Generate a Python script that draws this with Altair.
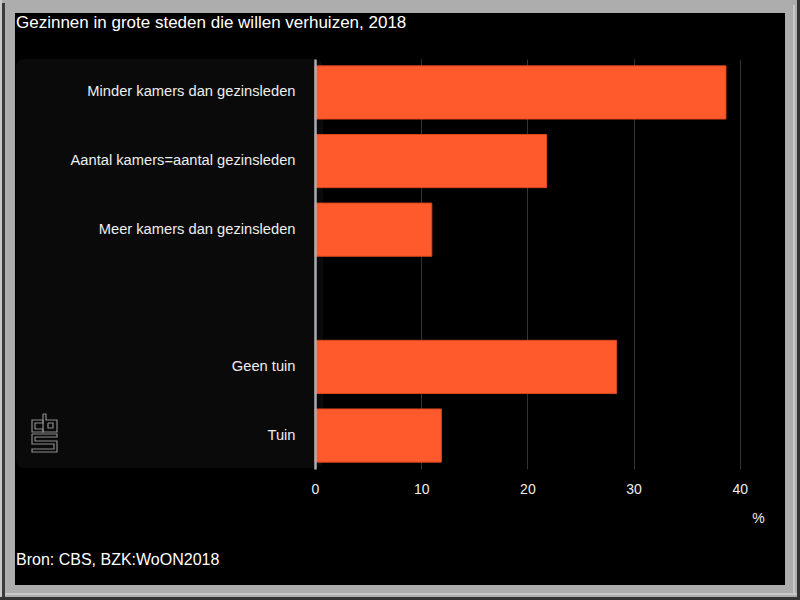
import altair as alt
import pandas as pd

# ---- data ----
categories = [
    "Minder kamers dan gezinsleden",
    "Aantal kamers=aantal gezinsleden",
    "Meer kamers dan gezinsleden",
    "Geen tuin",
    "Tuin",
]
values = [38.7, 21.8, 11.0, 28.4, 11.9]
y_order = categories[:3] + [" "] + categories[3:]
x_ticks = [0, 10, 20, 30, 40]

title_text = "Gezinnen in grote steden die willen verhuizen, 2018"
source_text = "Bron: CBS, BZK:WoON2018"

FONT = "Liberation Sans"
W, H = 446, 410
PL, PT = 315, 59

df = pd.DataFrame({"cat": categories, "val": values})
one = pd.DataFrame({"d": [0]})

# ---- decorative frame (page pixels -> view coordinates) ----
frame = [
    # x0, x1, y0, y1, colour
    (0, 800, 0, 13, "#adadad"),
    (0, 800, 585, 600, "#adadad"),
    (0, 15, 0, 600, "#adadad"),
    (785, 800, 0, 600, "#adadad"),
    (0, 2, 0, 600, "#c8c8c8"),
    (2, 5, 3, 597, "#3a3a3a"),
    (5, 797, 593, 595, "#c8c8c8"),
    (793, 795, 5, 595, "#c8c8c8"),
    (797, 800, 0, 600, "#333333"),
    (0, 800, 597, 600, "#333333"),
]
fdf = pd.DataFrame(
    [
        {"x": a - PL, "x2": b - PL, "y": c - PT, "y2": d - PT, "fill": col, "i": i}
        for i, (a, b, c, d, col) in enumerate(frame)
    ]
)
frame_layer = alt.Chart(fdf).mark_rect().encode(
    x=alt.X("x:Q", scale=None, axis=None),
    x2="x2:Q",
    y=alt.Y("y:Q", scale=None, axis=None),
    y2="y2:Q",
    color=alt.Color("fill:N", scale=None, legend=None),
    order="i:Q",
)

panel = alt.Chart(one).mark_rect(fill="#0a0a0a", cornerRadius=8).encode(
    x=alt.value(16 - PL),
    x2=alt.value(8),
    y=alt.value(0),
    y2=alt.value(468 - PT),
)

# ---- CBS logo outline ----
logo_shapes = [
    [(11, 6), (0, 6), (0, 18), (11, 18), (11, 15), (3, 15), (3, 9), (11, 9), (11, 6)],
    [(11, 0), (14, 0), (14, 6), (25, 6), (25, 18), (11, 18), (11, 0)],
    [(16, 9), (21, 9), (21, 14), (16, 14), (16, 9)],
    [(0, 20), (25, 20), (25, 23), (3, 23), (3, 27), (25, 27), (25, 38), (0, 38),
     (0, 35), (22, 35), (22, 30), (0, 30), (0, 20)],
]
LX, LY = 32 - PL, 414 - PT
rows = []
for s, pts in enumerate(logo_shapes):
    for k, (px, py) in enumerate(pts):
        rows.append({"px": LX + px, "py": LY + py, "seg": s, "o": k})
logo = alt.Chart(pd.DataFrame(rows)).mark_line(
    stroke="#8c8c8c", strokeWidth=1.2
).encode(
    x=alt.X("px:Q", scale=None, axis=None),
    y=alt.Y("py:Q", scale=None, axis=None),
    detail="seg:N",
    order="o:Q",
)

# ---- bars ----
bars = alt.Chart(df).mark_bar(
    color="#FF5A2B", stroke="#DA461E", strokeWidth=1
).encode(
    x=alt.X(
        "val:Q",
        scale=alt.Scale(domain=[0, 42], nice=False),
        axis=alt.Axis(
            values=x_ticks,
            grid=True,
            gridColor="#333333",
            gridWidth=1,
            domain=False,
            ticks=False,
            labelFlush=False,
            labelColor="#eeeeee",
            labelFont=FONT,
            labelFontSize=14,
            labelPadding=13,
            title="%",
            titleFont=FONT,
            titleFontSize=14,
            titleFontWeight="normal",
            titleColor="#eeeeee",
            titleX=443,
            titleY=49,
            titleAlign="center",
            titleBaseline="middle",
            titleAngle=0,
        ),
    ),
    y=alt.Y(
        "cat:N",
        sort=y_order,
        scale=alt.Scale(domain=y_order, paddingInner=0.225, paddingOuter=0.1),
        axis=alt.Axis(
            title=None,
            domain=True,
            domainColor="#a9aeb3",
            domainWidth=2.5,
            ticks=False,
            grid=False,
            labelColor="#eeeeee",
            labelFont=FONT,
            labelFontSize=14.7,
            labelPadding=20,
            labelLimit=400,
            zindex=1,
        ),
    ),
)

title = alt.Chart(one).mark_text(
    text=title_text, font=FONT, fontSize=17, color="#ffffff",
    align="left", baseline="alphabetic",
).encode(x=alt.value(16 - PL), y=alt.value(28 - PT))

source = alt.Chart(one).mark_text(
    text=source_text, font=FONT, fontSize=16, color="#ffffff",
    align="left", baseline="alphabetic",
).encode(x=alt.value(16 - PL), y=alt.value(565 - PT))

chart = (
    alt.layer(frame_layer, panel, logo, bars, title, source)
    .resolve_scale(x="independent", y="independent")
    .properties(
        width=W,
        height=H,
        background="#000000",
        padding={"left": PL, "top": PT, "right": 800 - PL - W, "bottom": 600 - PT - H},
        autosize=alt.AutoSizeParams(type="none"),
    )
    .configure_view(stroke=None)
)

chart.save("out.html", embed_options={"renderer": "svg", "actions": False})
